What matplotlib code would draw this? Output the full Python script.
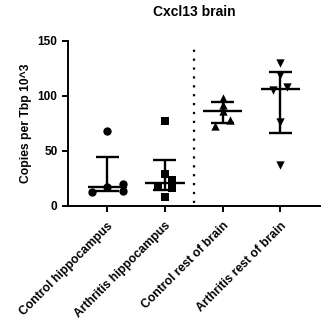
import numpy as np
import matplotlib.pyplot as plt

plt.rcParams["font.family"] = ["Liberation Sans", "DejaVu Sans"]
plt.rcParams["font.weight"] = "bold"

groups = ["Control hippocampus", "Arthritis hippocampus", "Control rest of brain", "Arthritis rest of brain"]
markers = ["o", "s", "^", "v"]

ctrl_hippo = [13.0, 68.6, 17.5, 19.6, 13.5]
arth_hippo = [77.7, 29.5, 23.5, 17.5, 16.5, 7.9]
ctrl_rest = [97.9, 91.8, 86.4, 78.2, 73.0]
arth_rest = [130.0, 119.0, 108.5, 105.0, 76.5, 37.3]

# horizontal scatter offsets as drawn in the original
ctrl_hippo_jit = [-0.26, 0.0, 0.0, 0.27, 0.27]
arth_hippo_jit = [0.0, 0.0, 0.12, -0.12, 0.12, 0.0]
ctrl_rest_jit = [0.0, 0.0, 0.0, 0.13, -0.13]
arth_rest_jit = [0.0, 0.0, 0.11, -0.13, 0.0, 0.0]

values = [ctrl_hippo, arth_hippo, ctrl_rest, arth_rest]
jitters = [ctrl_hippo_jit, arth_hippo_jit, ctrl_rest_jit, arth_rest_jit]


def quartiles(v):
    # prism style quartiles, (n+1) rank method
    v = np.sort(np.asarray(v))
    n = len(v)

    def at(p):
        r = (n + 1) * p - 1
        lo = int(np.floor(r))
        hi = min(lo + 1, n - 1)
        return v[lo] + (r - lo) * (v[hi] - v[lo])

    return at(0.25), np.median(v), at(0.75)


fig = plt.figure(figsize=(3.3, 3.36), dpi=100)
ax = fig.add_axes([0.206, 0.387, 0.764, 0.491])

for i, (v, j, m) in enumerate(zip(values, jitters, markers)):
    ax.scatter(np.array(j) + i, v, marker=m, s=36, color="black", zorder=3, linewidths=0)
    q1, med, q3 = quartiles(v)
    ax.hlines(med, i - 0.34, i + 0.34, color="black", lw=1.7)
    ax.vlines(i, q1, q3, color="black", lw=1.7)
    ax.hlines([q1, q3], i - 0.2, i + 0.2, color="black", lw=1.7)

ax.vlines(1.5, 3, 146, color="black", linestyles=(0, (1, 3)), lw=1.6)

ax.set_xlim(-0.68, 3.69)
ax.set_ylim(0, 150)
ax.set_yticks([0, 50, 100, 150])
ax.set_xticks(range(len(groups)))
ax.set_xticklabels(groups, rotation=45, ha="right", rotation_mode="anchor", fontsize=8.7)
ax.tick_params(axis="y", labelsize=8.5)
ax.tick_params(axis="x", pad=6)
ax.tick_params(direction="out", length=4, width=1.4)
for s in ["top", "right"]:
    ax.spines[s].set_visible(False)
for s in ["left", "bottom"]:
    ax.spines[s].set_linewidth(1.4)

ax.set_ylabel("Copies per Tbp 10^3", fontsize=8.7, fontweight="bold")
ax.set_title("Cxcl13 brain", fontsize=10, fontweight="bold", pad=18)

plt.savefig("out.png", dpi=100)
